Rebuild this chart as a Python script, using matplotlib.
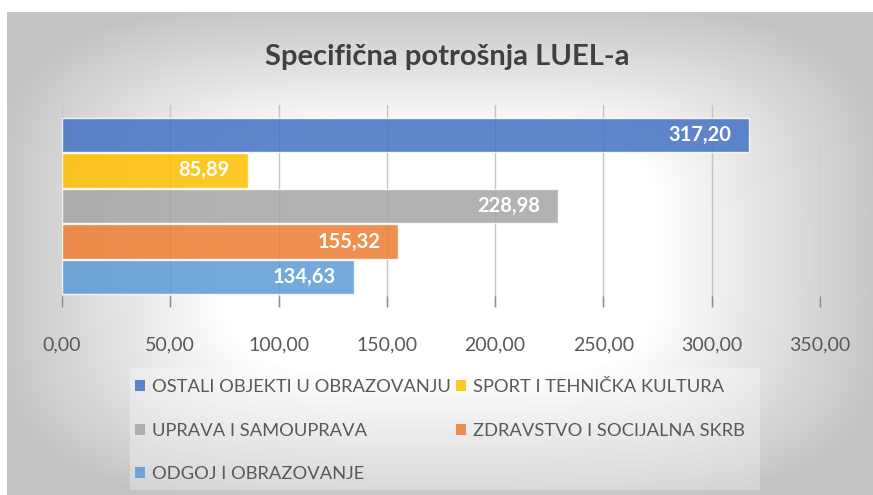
import numpy as np
import matplotlib
matplotlib.use("Agg")
import matplotlib.pyplot as plt
from matplotlib.patches import Patch, Rectangle

# data, top bar first
categories = ["OSTALI OBJEKTI U OBRAZOVANJU", "SPORT I TEHNIČKA KULTURA",
              "UPRAVA I SAMOUPRAVA", "ZDRAVSTVO I SOCIJALNA SKRB",
              "ODGOJ I OBRAZOVANJE"]
values = [317.20, 85.89, 228.98, 155.32, 134.63]
colors = ["#4472C4", "#FFC000", "#A5A5A5", "#ED7D31", "#5B9BD5"]
xticks = [0, 50, 100, 150, 200, 250, 300, 350]
title = "Specifična potrošnja LUEL-a"

plt.rcParams["font.family"] = ["Lato", "DejaVu Sans"]

W, H = 873, 495
fig = plt.figure(figsize=(W / 100, H / 100), dpi=100)
fig.patch.set_facecolor("white")

# background: rectangular "from centre" gradient like the Excel chart area
bg = fig.add_axes([7 / W, 0, (W - 7) / W, (H - 12) / H], zorder=0)
yy, xx = np.mgrid[0:483, 0:866]
dx = np.abs(xx - 433) / 433
dy = np.abs(yy - 241) / 241
r = (dx ** 4 + dy ** 4) ** 0.25
shade = 255 - 110 * np.clip(r - 0.5, 0, None)
shade = np.clip(shade, 195, 255) / 255
bg.imshow(np.dstack([shade] * 3), aspect="auto", extent=[0, 1, 0, 1])
bg.axis("off")

# faint legend area
fig.patches.append(Rectangle((130 / W, 5 / H), 630 / W, 122 / H,
                             transform=fig.transFigure, facecolor="white",
                             alpha=0.3, edgecolor="none", zorder=1))

ax = fig.add_axes([62 / W, (H - 307) / H, (820 - 62) / W, 202 / H], zorder=2)
ax.patch.set_alpha(0)

pos = np.arange(len(values))
bars = ax.barh(pos, values, height=0.96, color=colors, alpha=0.85,
               edgecolor="white", linewidth=1.0, zorder=3)
for b, v in zip(bars, values):
    ax.annotate(f"{v:.2f}".replace(".", ","), (v, b.get_y() + b.get_height() / 2),
                xytext=(-13, 0), textcoords="offset points", ha="right", va="center",
                color="white", fontsize=14.5, fontweight="bold", zorder=4)

ax.set_xlim(0, 350)
ax.set_ylim(len(values) - 1 + 0.84, -0.84)
ax.set_xticks(xticks)
ax.set_xticklabels([f"{t:.2f}".replace(".", ",") for t in xticks])
ax.set_yticks([])
ax.grid(axis="x", color="#c4c4c4", linewidth=1.0, zorder=0)
ax.set_axisbelow(True)
for s in ax.spines.values():
    s.set_visible(False)
ax.tick_params(axis="x", direction="in", length=8, width=1, color="#8c8c8c",
               pad=21, labelsize=14, labelcolor="#595959")

fig.text(447 / W, 1 - 57 / H, title, ha="center", va="center",
         fontsize=21, fontweight="bold", color="#404040")

# Excel fills the legend row by row; matplotlib fills columns, so reorder
order = [0, 2, 4, 1, 3]
handles = [Patch(facecolor=colors[i], alpha=0.85, edgecolor="none") for i in order]
labels = [categories[i] for i in order]
fig.legend(handles, labels, ncol=2, loc="upper left",
           bbox_to_anchor=(128 / W, 1 - 372 / H), frameon=False,
           fontsize=13.2, labelcolor="#595959", handlelength=0.55,
           handleheight=0.55, handletextpad=0.35, columnspacing=0.3,
           labelspacing=1.5, borderaxespad=0)

fig.savefig("out.png", dpi=100)
